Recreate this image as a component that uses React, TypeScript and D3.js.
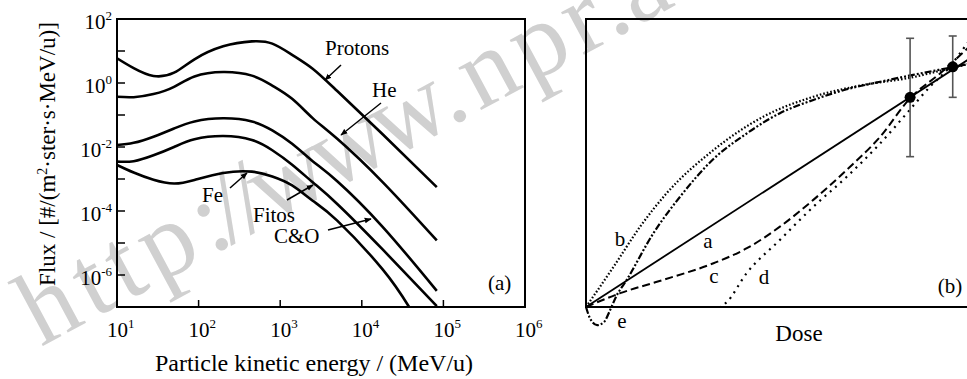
import React, { useEffect, useRef } from 'react';
import * as d3 from 'd3';

// panel (a): GCR flux spectra
const energy = [10, 16, 28, 50, 89, 200, 450, 800, 1400, 2500, 5000, 18000, 83000];
const feEnergy = [10, 16, 28, 50, 89, 200, 450, 800, 1400, 2500, 5000, 18000, 38000];
const protonFlux = [5.9, 2.9, 1.66, 2.1, 5.5, 14, 20, 17, 7.6, 2.8, 0.56, 0.025, 5.6e-4];
const heFlux = [0.37, 0.36, 0.45, 0.76, 1.6, 2.2, 1.7, 0.83, 0.32, 0.08, 0.018, 8e-4, 1.2e-5];
const coFlux = [0.0115, 0.0135, 0.021, 0.038, 0.063, 0.079, 0.063, 0.033, 0.0126, 3.6e-3, 8.5e-4, 3.2e-5, 3.2e-7];
const fitosFlux = [3.5e-3, 3.6e-3, 5.5e-3, 0.01, 0.0174, 0.022, 0.0166, 7.9e-3, 2.8e-3, 7.9e-4, 1.66e-4, 6.3e-6, 1.07e-7];
const feFlux = [2.75e-3, 1.6e-3, 9.5e-4, 7.2e-4, 9.3e-4, 1.55e-3, 1.7e-3, 1.2e-3, 6.3e-4, 2.1e-4, 5.0e-5, 1.5e-6, 1.0e-7];
const xTickExp = [1, 2, 3, 4, 5, 6];
const yLabelExp = [2, 0, -2, -4, -6];
const yTickExp = [2, 1, 0, -1, -2, -3, -4, -5, -6, -7];

// panel (b): dose-response models
const doseA = [0, 100];
const respA = [0, 86.3];
const doseB = [0, 7.2, 14.1, 21, 33.2, 46.2, 59.2, 72.2, 84.4, 94, 100];
const respB = [0, 14, 27.9, 39.5, 54.5, 66.1, 73, 77.1, 79.6, 82.6, 84.5];
const doseC = [0, 8.9, 20.1, 33.2, 41.9, 50.5, 59.2, 67.9, 76.6, 84.4, 92.2, 99.5];
const respC = [0, 4.8, 9.4, 15.2, 20.4, 27.9, 37.2, 47.6, 59.1, 72.5, 81.1, 90];
const doseD = [0, 34.9, 36.5, 41.8, 50.5, 59.2, 67.9, 76.6, 83.5, 89.6, 94, 99.5];
const respD = [0, 0, 1.5, 11.7, 23.3, 34.8, 45.2, 56.8, 67.2, 76.5, 82.3, 92];
const doseE = [0, 1, 2.9, 4.7, 6.3, 7.8, 10.6, 17.5, 24.5, 33.2, 41.9, 50.5, 59.2, 67.9, 76.6, 85.2, 94, 100];
const respE = [0, -3.8, -6.3, -5.2, -1, 3.5, 9.4, 25.5, 38.3, 51.4, 60.3, 67.3, 71.9, 75.6, 78.2, 80.6, 82.9, 84.5];
const pointDose = [84.4, 95.5];
const pointResp = [72.8, 83.4];
const pointLow = [52.2, 72.8];
const pointHigh = [93.3, 94.1];

const FONT = "'Liberation Serif', 'Times New Roman', serif";

export default function App() {
  const ref = useRef<SVGSVGElement>(null);

  useEffect(() => {
    draw();
    // eslint-disable-next-line react-hooks/exhaustive-deps
  }, []);

  function draw() {
    const svg = d3.select(ref.current);
    svg.selectAll('*').remove();

    const defs = svg.append('defs');
    defs
      .append('marker')
      .attr('id', 'arr')
      .attr('viewBox', '0 0 10 10')
      .attr('refX', 9)
      .attr('refY', 5)
      .attr('markerWidth', 7)
      .attr('markerHeight', 7)
      .attr('markerUnits', 'userSpaceOnUse')
      .attr('orient', 'auto')
      .append('path')
      .attr('d', 'M0,1 L10,5 L0,9 z')
      .attr('fill', '#000');
    defs.append('clipPath').attr('id', 'clipA').append('rect').attr('x', 117).attr('y', 19).attr('width', 408).attr('height', 288);
    defs.append('clipPath').attr('id', 'clipB').append('rect').attr('x', 560).attr('y', 19).attr('width', 410).attr('height', 330);

    // watermark (per-glyph dx to mimic the narrow w's of the original)
    svg
      .append('text')
      .attr('transform', 'translate(41,347) rotate(-28.3)')
      .attr('font-family', FONT)
      .attr('font-size', 105)
      .attr('fill', '#d0d0d0')
      .attr('dx', '0 7.5 7.5 7.5 7.5 -7.3 -7.3 -7.3 -7.3 -7.3 0 6 6 6 6')
      .text('http://www.npr.ac.cn');

    // ---------- panel (a)
    const x = d3.scaleLog().domain([10, 1e6]).range([117, 525]);
    const y = d3.scaleLog().domain([1e-7, 100]).range([307, 19]);
    const ga = svg.append('g');

    const series = [
      { e: energy, f: protonFlux },
      { e: energy, f: heFlux },
      { e: energy, f: coFlux },
      { e: energy, f: fitosFlux },
      { e: feEnergy, f: feFlux },
    ];
    const line = d3
      .line<[number, number]>()
      .x((d) => x(d[0]))
      .y((d) => y(d[1]))
      .curve(d3.curveNatural);
    ga.append('g')
      .attr('clip-path', 'url(#clipA)')
      .selectAll('path')
      .data(series)
      .join('path')
      .attr('d', (s) => line(s.e.map((v, i) => [v, s.f[i]] as [number, number])))
      .attr('fill', 'none')
      .attr('stroke', '#000')
      .attr('stroke-width', 2.6);

    ga.append('rect')
      .attr('x', 117)
      .attr('y', 19)
      .attr('width', 408)
      .attr('height', 288)
      .attr('fill', 'none')
      .attr('stroke', '#000')
      .attr('stroke-width', 2);

    // ticks (inside)
    ga.selectAll('.xt')
      .data(xTickExp.slice(1, 5))
      .join('line')
      .attr('x1', (d) => x(10 ** d))
      .attr('x2', (d) => x(10 ** d))
      .attr('y1', 307)
      .attr('y2', 300)
      .attr('stroke', '#000')
      .attr('stroke-width', 1.5);
    ga.selectAll('.yt')
      .data(yTickExp.slice(1, -1))
      .join('line')
      .attr('x1', 117)
      .attr('x2', 125)
      .attr('y1', (d) => y(10 ** d))
      .attr('y2', (d) => y(10 ** d))
      .attr('stroke', '#000')
      .attr('stroke-width', 1.5);

    const xl = ga
      .selectAll('.xl')
      .data(xTickExp)
      .join('text')
      .attr('x', (d) => x(10 ** d) - 10)
      .attr('y', 337)
      .attr('font-family', FONT)
      .attr('font-size', 21)
      .text('10');
    xl.append('tspan')
      .attr('dy', -9)
      .attr('font-size', 13)
      .text((d) => d);

    const yl = ga
      .selectAll('.yl')
      .data(yLabelExp)
      .join('text')
      .attr('x', 112)
      .attr('y', (d) => y(10 ** d) + 9.5)
      .attr('text-anchor', 'end')
      .attr('font-family', FONT)
      .attr('font-size', 21)
      .text('10');
    yl.append('tspan')
      .attr('dy', -9)
      .attr('font-size', 13)
      .text((d) => (d < 0 ? '-' + -d : d));

    ga.append('text')
      .attr('x', 314)
      .attr('y', 371)
      .attr('text-anchor', 'middle')
      .attr('font-family', FONT)
      .attr('font-size', 24)
      .text('Particle kinetic energy / (MeV/u)');
    const yt = ga
      .append('text')
      .attr('transform', 'translate(55,154) rotate(-90)')
      .attr('text-anchor', 'middle')
      .attr('font-family', FONT)
      .attr('font-size', 23)
      .text('Flux / [#/(m');
    yt.append('tspan').attr('dy', -8).attr('font-size', 14).text('2');
    yt.append('tspan').attr('dy', 8).text('·ster·s·MeV/u)]');

    // curve labels + leaders
    const labels = [
      { t: 'Protons', x: 325, y: 55, from: [341, 65], to: [325, 80] },
      { t: 'He', x: 372, y: 97, from: [381, 103], to: [341, 135] },
      { t: 'Fe', x: 202, y: 202, from: [230, 188], to: [247, 173] },
      { t: 'Fitos', x: 253, y: 222, from: [287, 200], to: [313, 185] },
      { t: 'C&O', x: 274, y: 243, from: [328, 230], to: [371, 219] },
    ];
    ga.selectAll('.lab')
      .data(labels)
      .join('text')
      .attr('x', (d) => d.x)
      .attr('y', (d) => d.y)
      .attr('font-family', FONT)
      .attr('font-size', 21)
      .text((d) => d.t);
    ga.selectAll('.lead')
      .data(labels)
      .join('line')
      .attr('x1', (d) => d.from[0])
      .attr('y1', (d) => d.from[1])
      .attr('x2', (d) => d.to[0])
      .attr('y2', (d) => d.to[1])
      .attr('stroke', '#000')
      .attr('stroke-width', 1.5)
      .attr('marker-end', 'url(#arr)');
    ga.append('text')
      .attr('x', 488)
      .attr('y', 290)
      .attr('font-family', FONT)
      .attr('font-size', 21)
      .text('(a)');

    // ---------- panel (b)
    const bx = d3.scaleLinear().domain([0, 100]).range([586, 970]);
    const by = d3.scaleLinear().domain([0, 100]).range([307, 19]);
    const gb = svg.append('g');
    const bline = d3
      .line<[number, number]>()
      .x((d) => bx(d[0]))
      .y((d) => by(d[1]))
      .curve(d3.curveMonotoneX);
    const models = [
      { d: doseA, r: respA, dash: null, w: 1.8 },
      { d: doseB, r: respB, dash: '1.6,2', w: 2.2 },
      { d: doseC, r: respC, dash: '8,4', w: 2 },
      { d: doseD, r: respD, dash: '2,5', w: 2.2 },
      { d: doseE, r: respE, dash: '7,2,2,2,2,2', w: 2.2 },
    ];
    gb.append('g')
      .attr('clip-path', 'url(#clipB)')
      .selectAll('path')
      .data(models)
      .join('path')
      .attr('d', (m) => bline(m.d.map((v, i) => [v, m.r[i]] as [number, number])))
      .attr('fill', 'none')
      .attr('stroke', '#000')
      .attr('stroke-width', (m) => m.w)
      .attr('stroke-dasharray', (m) => m.dash);

    gb.append('path')
      .attr('d', `M${bx(100)},${by(100)}H${bx(0)}V${by(0)}H${bx(100)}`)
      .attr('fill', 'none')
      .attr('stroke', '#000')
      .attr('stroke-width', 2);

    const err = pointDose.map((d, i) => ({ d, r: pointResp[i], lo: pointLow[i], hi: pointHigh[i] }));
    const eg = gb.selectAll('.err').data(err).join('g').attr('stroke', '#555').attr('stroke-width', 1.6);
    eg.append('line')
      .attr('x1', (d) => bx(d.d))
      .attr('x2', (d) => bx(d.d))
      .attr('y1', (d) => by(d.lo))
      .attr('y2', (d) => by(d.hi));
    eg.append('line')
      .attr('x1', (d) => bx(d.d) - 4)
      .attr('x2', (d) => bx(d.d) + 4)
      .attr('y1', (d) => by(d.lo))
      .attr('y2', (d) => by(d.lo));
    eg.append('line')
      .attr('x1', (d) => bx(d.d) - 4)
      .attr('x2', (d) => bx(d.d) + 4)
      .attr('y1', (d) => by(d.hi))
      .attr('y2', (d) => by(d.hi));
    gb.selectAll('.pt')
      .data(err)
      .join('circle')
      .attr('cx', (d) => bx(d.d))
      .attr('cy', (d) => by(d.r))
      .attr('r', 5.5)
      .attr('fill', '#000');

    const bLabels = [
      { t: 'b', x: 620, y: 246 },
      { t: 'a', x: 708, y: 248 },
      { t: 'c', x: 714, y: 283 },
      { t: 'd', x: 764, y: 284 },
      { t: 'e', x: 622, y: 328 },
      { t: '(b)', x: 950, y: 293 },
      { t: 'Dose', x: 799, y: 341 },
    ];
    gb.selectAll('.bl')
      .data(bLabels)
      .join('text')
      .attr('x', (d) => d.x)
      .attr('y', (d) => d.y)
      .attr('text-anchor', 'middle')
      .attr('font-family', FONT)
      .attr('font-size', (d) => (d.t === 'Dose' ? 23 : 21))
      .text((d) => d.t);
  }

  return (
    <svg
      ref={ref}
      width={967}
      height={379}
      style={{ position: 'absolute', left: 0, top: 0, background: '#fff' }}
    />
  );
}
